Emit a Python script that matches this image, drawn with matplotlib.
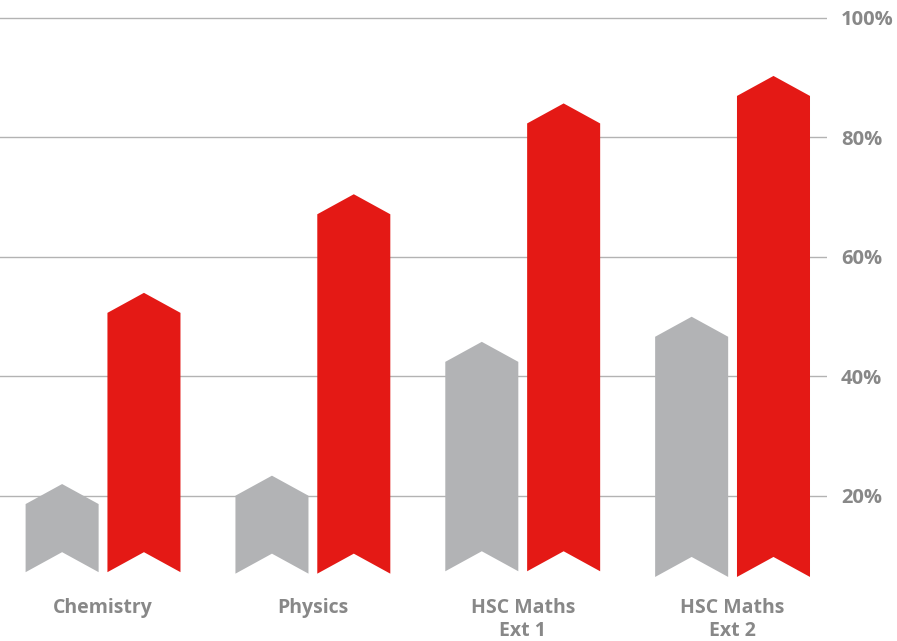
import matplotlib
matplotlib.use("Agg")
import matplotlib.pyplot as plt

# 科目ごとの割合 (%)
subjects = ["Chemistry", "Physics", "HSC Maths\nExt 1", "HSC Maths\nExt 2"]
grey_vals = [22.0, 23.4, 45.8, 50.0]
red_vals = [54.0, 70.5, 85.7, 90.3]
bar_base = [7.25, 7.0, 7.4, 6.45]
yticks = [20, 40, 60, 80, 100]

GREY = "#b2b3b5"
RED = "#e41915"
TEXT = "#888888"
GRID = "#b3b3b3"

plt.rcParams["font.family"] = ["Open Sans", "DejaVu Sans"]

fig = plt.figure(figsize=(8.97, 6.41), dpi=100)
W, H = 897, 641
ax = fig.add_axes([0, 25.5 / H, 827 / W, 603.5 / H])
ax.set_ylim(0, 101)
ax.set_xlim(-0.491, 3.450)

for s in ax.spines.values():
    s.set_visible(False)

for t in yticks:
    ax.axhline(t, color=GRID, lw=1.0, zorder=0)

w = 0.348
off = 0.195
tip = 3.35  # 矢印の高さ


def chevron(cx, top, base, color):
    xs = [cx - w / 2, cx, cx + w / 2, cx + w / 2, cx, cx - w / 2]
    ys = [base, base + tip, base, top - tip, top, top - tip]
    ax.fill(xs, ys, color=color, lw=0, zorder=2)


for i in range(len(subjects)):
    chevron(i - off, grey_vals[i], bar_base[i], GREY)
    chevron(i + off, red_vals[i], bar_base[i], RED)

ax.set_xticks([])
ax.yaxis.tick_right()
ax.set_yticks(yticks)
ax.set_yticklabels([f"{t}%" for t in yticks], color=TEXT, fontsize=14.5,
                   fontweight="bold")
ax.tick_params(axis="y", length=0, pad=10.0)

for i, name in enumerate(subjects):
    ax.text(i, 3.0, name, ha="center", va="top", color=TEXT, fontsize=14,
            fontweight="bold", linespacing=1.22, clip_on=False)

fig.savefig("out.png", dpi=100)
